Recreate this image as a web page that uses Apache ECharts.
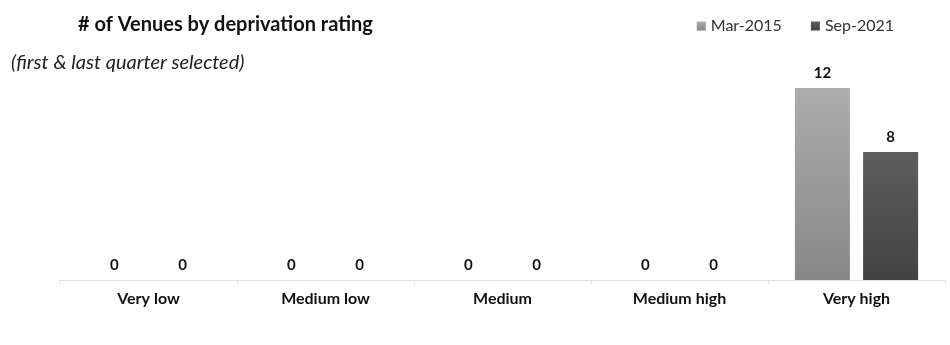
<!DOCTYPE html>
<html><head><meta charset="utf-8">
<script src="https://cdn.jsdelivr.net/npm/echarts@6/dist/echarts.min.js"></script>
<style>html,body{margin:0;padding:0;background:#fff}#c{width:950px;height:345px}</style>
</head><body><div id="c"></div>
<script>
var categories = ['Very low', 'Medium low', 'Medium', 'Medium high', 'Very high'];
var seriesNames = ['Mar-2015', 'Sep-2021'];
var mar2015 = [0, 0, 0, 0, 12];
var sep2021 = [0, 0, 0, 0, 8];

var font = 'Lato, "Open Sans", "Liberation Sans", sans-serif';
function grad(a, b) {
  return new echarts.graphic.LinearGradient(0, 0, 0, 1, [{offset: 0, color: a}, {offset: 1, color: b}]);
}
var chart = echarts.init(document.getElementById('c'));
chart.setOption({
  animation: false,
  title: [
    {text: '# of Venues by deprivation rating', left: 73, top: 10,
     textStyle: {fontFamily: font, fontSize: 20, fontWeight: 'bold', color: '#111'}},
    {text: '(first & last quarter selected)', left: 6, top: 48,
     textStyle: {fontFamily: font, fontSize: 20, fontStyle: 'italic', fontWeight: 'normal', color: '#222'}}
  ],
  legend: {
    right: 51, top: 13, itemWidth: 9, itemHeight: 9, itemGap: 29, icon: 'rect',
    textStyle: {fontFamily: font, fontSize: 16, color: '#333'},
    data: seriesNames
  },
  grid: {left: 60, right: 5, top: 88, bottom: 65},
  xAxis: {
    type: 'category', data: categories,
    axisLine: {lineStyle: {color: '#d6e0ef', width: 1}},
    axisTick: {show: true, length: 4, lineStyle: {color: '#d6e0ef'}},
    axisLabel: {fontFamily: font, fontSize: 16, fontWeight: 'bold', color: '#111', margin: 11}
  },
  yAxis: {type: 'value', min: 0, max: 12, show: false, splitLine: {show: false}},
  series: [
    {name: seriesNames[0], type: 'bar', data: mar2015, barWidth: 55, barGap: '24%',
     itemStyle: {color: grad('#adadad', '#878787')},
     label: {show: true, position: 'top', distance: 7, fontFamily: font, fontSize: 15, fontWeight: 'bold', color: '#111'}},
    {name: seriesNames[1], type: 'bar', data: sep2021, barWidth: 55,
     itemStyle: {color: grad('#5e5e5e', '#424242')},
     label: {show: true, position: 'top', distance: 7, fontFamily: font, fontSize: 15, fontWeight: 'bold', color: '#111'}}
  ]
});
</script></body></html>
